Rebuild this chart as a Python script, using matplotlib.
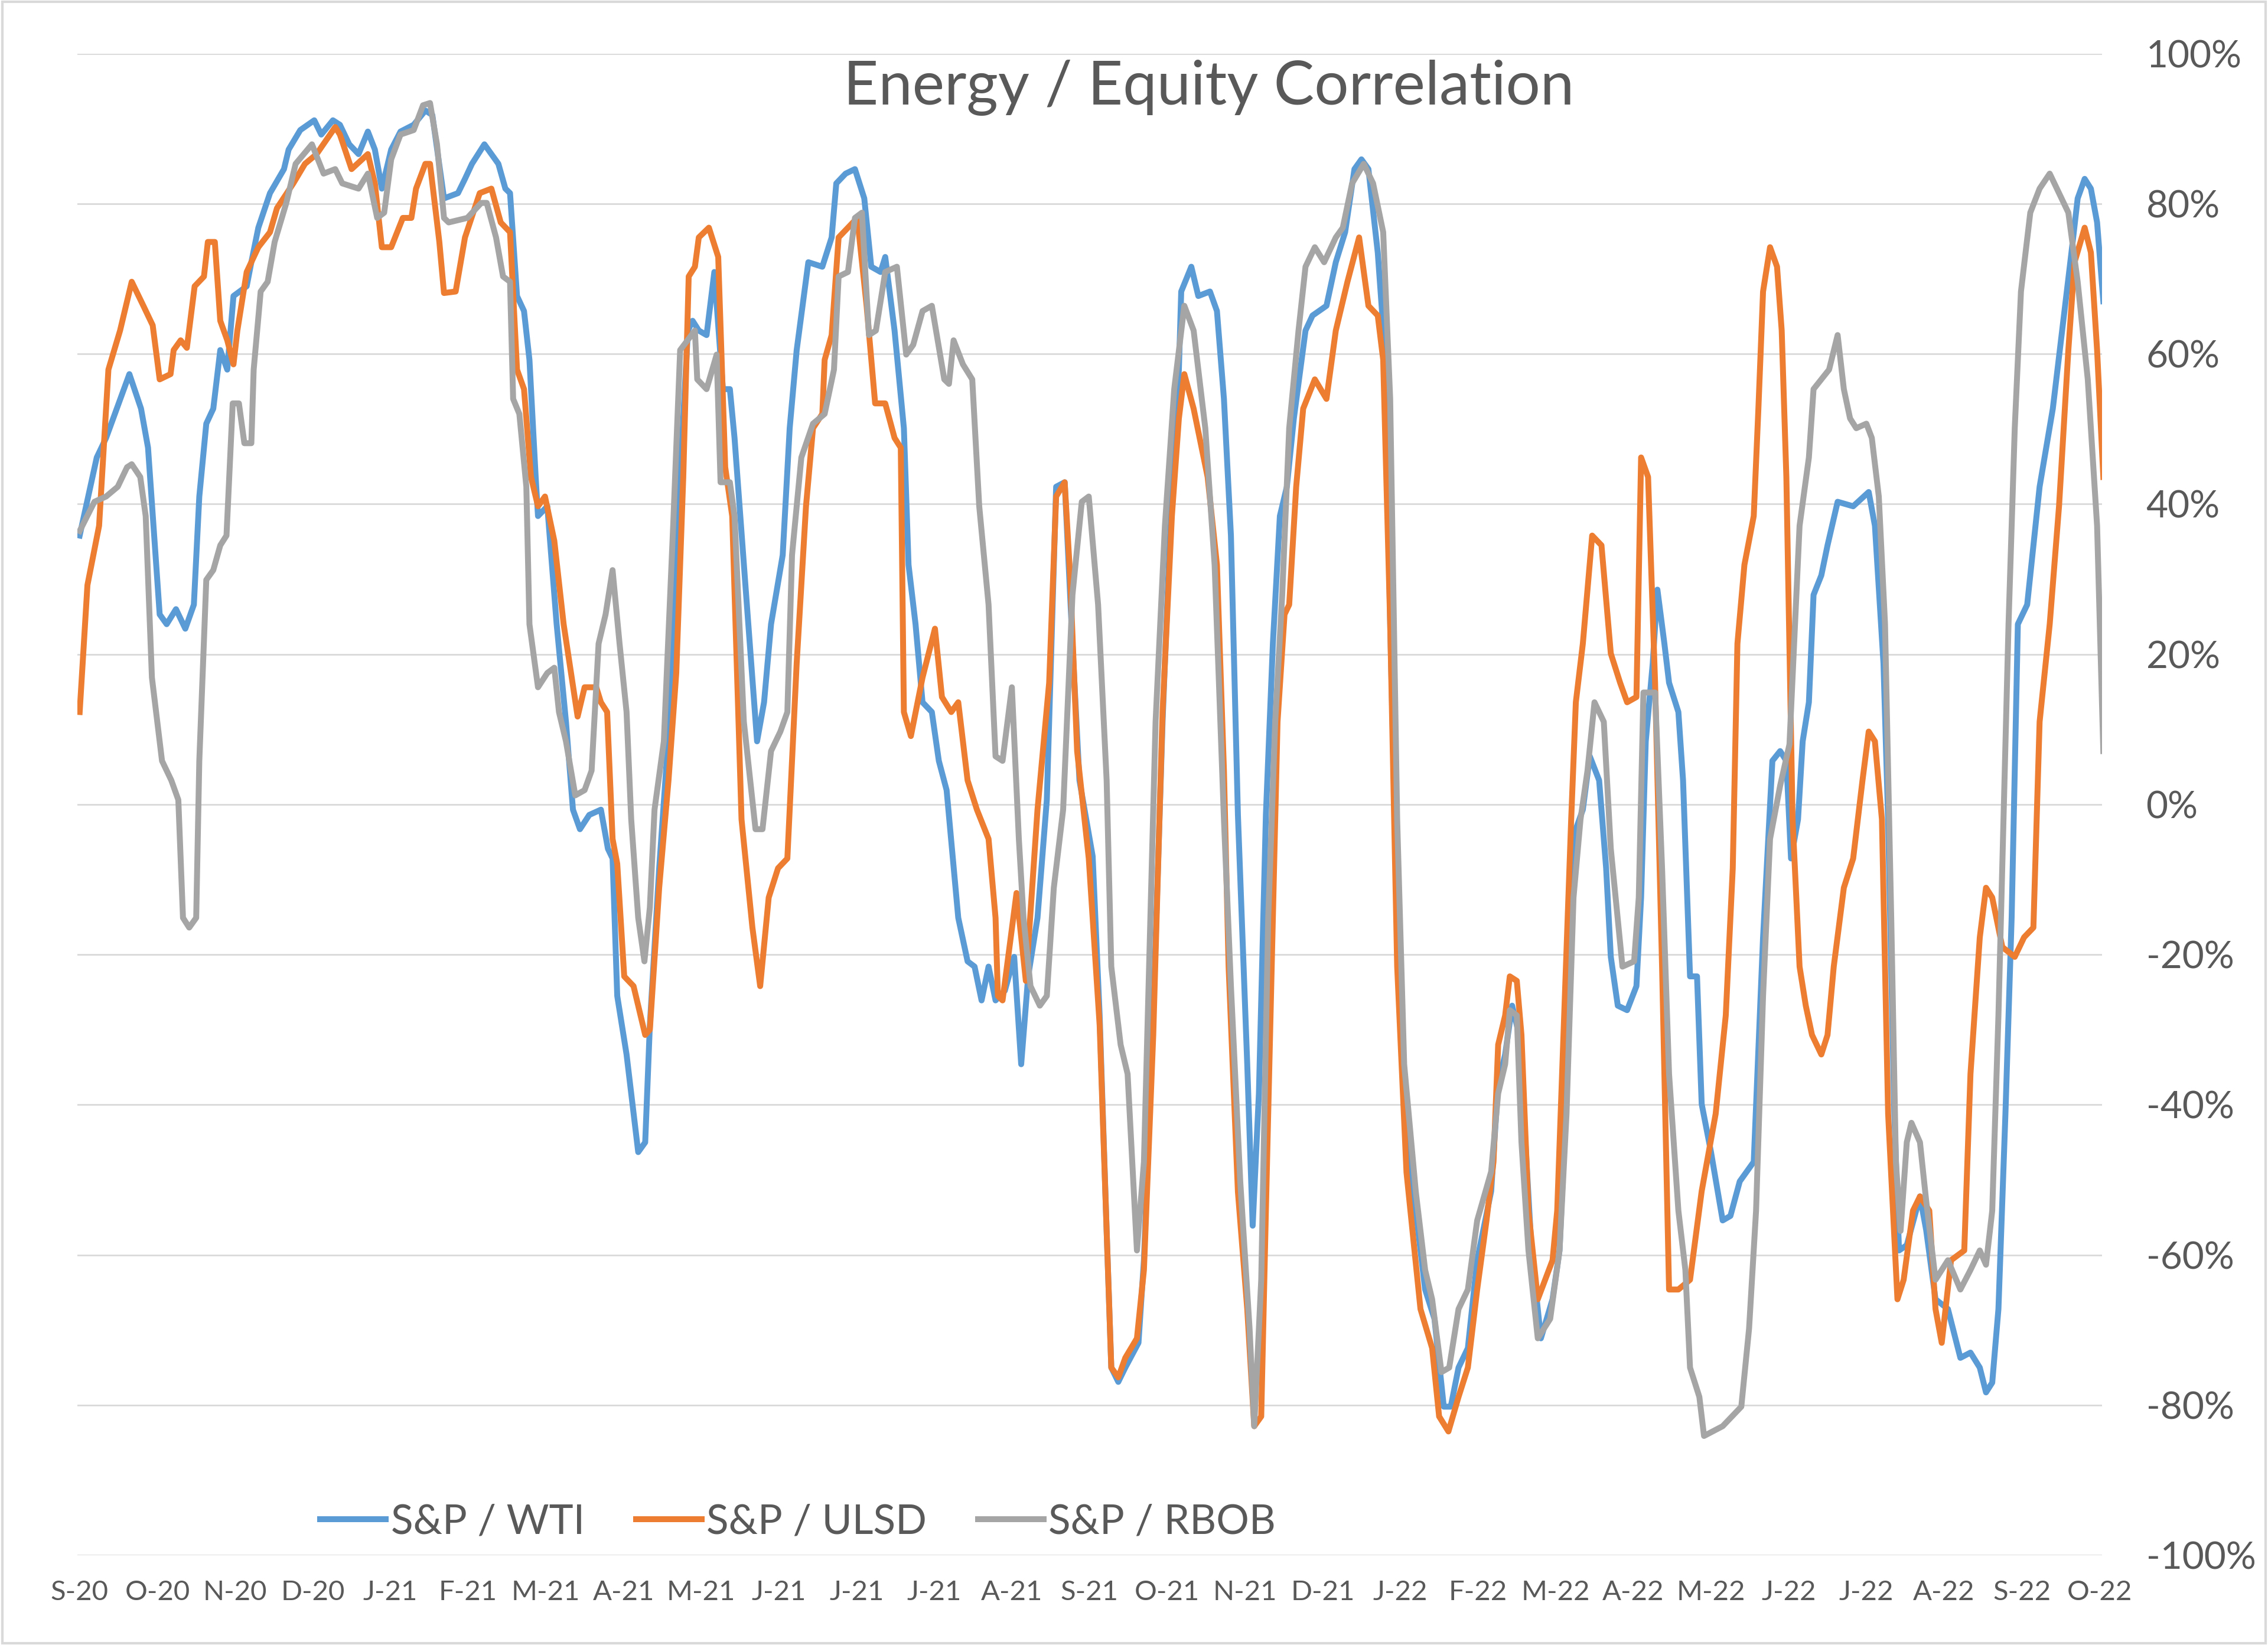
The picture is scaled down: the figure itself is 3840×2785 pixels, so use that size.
import matplotlib
matplotlib.use("Agg")
import matplotlib.pyplot as plt
from matplotlib.patches import Rectangle

# x axis category labels (Excel date axis, ~29 day steps)
months = ['S-20', 'O-20', 'N-20', 'D-20', 'J-21', 'F-21', 'M-21', 'A-21', 'M-21',
          'J-21', 'J-21', 'J-21', 'A-21', 'S-21', 'O-21', 'N-21', 'D-21', 'J-22',
          'F-22', 'M-22', 'A-22', 'M-22', 'J-22', 'J-22', 'A-22', 'S-22', 'O-22']

# S&P / WTI  (t = position on the label axis, v = correlation in %)
wti_t = [0.00, 0.22, 0.34, 0.64, 0.79, 0.88, 1.03, 1.12, 1.24, 1.36, 1.47, 1.54, 1.63, 1.72, 1.81,
         1.90, 1.98, 2.15, 2.21, 2.30, 2.45, 2.63, 2.69, 2.84, 3.02, 3.11, 3.26, 3.35, 3.47, 3.59,
         3.71, 3.80, 3.89, 4.01, 4.13, 4.30, 4.45, 4.54, 4.69, 4.87, 4.96, 5.05, 5.21, 5.39, 5.48,
         5.54, 5.63, 5.72, 5.79, 5.87, 5.90, 6.02, 6.14, 6.26, 6.35, 6.44, 6.56, 6.71, 6.80, 6.86,
         6.92, 7.04, 7.19, 7.28, 7.34, 7.46, 7.61, 7.73, 7.83, 7.89, 7.97, 8.07, 8.17, 8.28, 8.37,
         8.43, 8.57, 8.72, 8.81, 8.90, 9.05, 9.14, 9.23, 9.38, 9.56, 9.68, 9.74, 9.86, 9.98, 10.10,
         10.19, 10.31, 10.37, 10.49, 10.61, 10.67, 10.76, 10.85, 10.97, 11.06, 11.16, 11.31, 11.43,
         11.52, 11.61, 11.70, 11.79, 11.91, 12.03, 12.12, 12.21, 12.33, 12.45, 12.57, 12.68, 12.78,
         12.87, 13.04, 13.13, 13.22, 13.28, 13.37, 13.46, 13.63, 13.70, 13.82, 13.94, 14.03, 14.15,
         14.18, 14.31, 14.40, 14.55, 14.64, 14.73, 14.82, 14.91, 15.03, 15.10, 15.18, 15.27, 15.36,
         15.45, 15.54, 15.63, 15.78, 15.87, 16.05, 16.17, 16.29, 16.41, 16.50, 16.59, 16.71, 16.81,
         16.87, 16.96, 17.05, 17.20, 17.32, 17.44, 17.56, 17.65, 17.75, 17.87, 17.99, 18.17, 18.26,
         18.35, 18.44, 18.53, 18.59, 18.69, 18.81, 18.96, 19.05, 19.14, 19.20, 19.26, 19.35, 19.44,
         19.56, 19.65, 19.71, 19.80, 19.92, 20.04, 20.10, 20.16, 20.25, 20.31, 20.40, 20.46, 20.58,
         20.64, 20.73, 20.82, 20.88, 21.00, 21.15, 21.25, 21.37, 21.55, 21.67, 21.79, 21.89, 21.97,
         22.03, 22.12, 22.18, 22.26, 22.32, 22.42, 22.50, 22.63, 22.83, 23.03, 23.11, 23.22, 23.28,
         23.36, 23.42, 23.52, 23.69, 23.77, 23.89, 24.05, 24.21, 24.34, 24.46, 24.54, 24.62, 24.70,
         24.79, 24.87, 24.95, 25.07, 25.23, 25.40, 25.52, 25.64, 25.72, 25.81, 25.89, 25.97, 26.05]
wti_v = [35.8, 46.2, 48.8, 57.3, 52.7, 47.5, 25.3, 24.0, 26.0, 23.4, 26.6, 41.0, 50.7, 52.7, 60.5,
         57.9, 67.7, 69.0, 72.2, 76.8, 81.4, 84.6, 87.2, 89.8, 91.1, 89.2, 91.1, 90.5, 87.9, 86.6,
         89.6, 87.2, 82.0, 87.2, 89.6, 90.5, 92.4, 91.8, 80.7, 81.4, 83.3, 85.3, 87.9, 85.3, 82.0,
         81.4, 67.7, 65.7, 59.2, 43.6, 38.4, 39.7, 24.0, 11.0, -0.7, -3.3, -1.4, -0.7, -5.9, -7.2,
         -25.5, -33.3, -46.3, -45.0, -29.4, -8.5, 13.6, 43.6, 63.1, 64.4, 63.1, 62.5, 70.9, 55.3, 55.3,
         48.8, 29.2, 8.4, 13.6, 24.0, 33.2, 50.1, 60.5, 72.2, 71.6, 75.5, 82.7, 84.0, 84.6, 80.7,
         71.6, 70.9, 72.9, 63.1, 50.1, 31.9, 24.0, 13.6, 12.3, 5.8, 1.9, -15.1, -20.9,
         -21.6, -26.1, -21.6, -26.1, -24.8, -20.3, -34.6, -22.9, -15.1, 0.6, 42.3, 42.9, 21.4,
         3.2, -6.9, -28.1, -56.8, -75.0, -76.9, -75.0, -71.7, -60.7, -28.1, 11.0, 34.5, 57.9,
         68.3, 71.6, 67.7, 68.3, 65.7, 54.0, 35.8, -1.4, -34.6, -56.1, -38.5, -1.4, 21.4,
         38.4, 42.3, 51.4, 63.1, 65.1, 66.4, 72.2, 76.2, 84.6, 85.9, 84.6, 73.5, 59.2,
         24.0, -15.1, -41.2, -54.1, -64.6, -68.5, -80.2, -80.2, -75.0, -72.4, -60.7, -51.5, -37.2,
         -33.3, -26.8, -30.7, -41.2, -59.4, -71.1, -65.9, -59.4, -38.5, -11.1, -3.3, -0.7, 6.4,
         3.2, -8.5, -20.3, -26.8, -27.4, -24.2, -12.4, 8.4, 18.8, 28.6, 21.4, 16.2, 12.3,
         3.2, -22.9, -22.9, -39.9, -46.3, -55.4, -54.8, -50.2, -47.6, -17.7, 5.8, 7.1, 5.8,
         -7.2, -2.0, 8.4, 13.6, 27.9, 30.5, 34.5, 40.3, 39.7, 41.6, 37.1, 18.8, -2.0,
         -41.2, -59.4, -58.7, -52.2, -56.7, -65.9, -67.2, -73.7, -73.0, -75.0, -78.3, -77.0, -67.2,
         -41.2, -15.1, 24.0, 26.6, 42.3, 52.7, 63.1, 73.5, 80.7, 83.3, 82.0, 77.5, 67.0]

# S&P / ULSD
ulsd_t = [0.00, 0.10, 0.25, 0.37, 0.52, 0.67, 0.82, 0.94, 1.03, 1.17, 1.21, 1.30, 1.38, 1.48, 1.60,
          1.65, 1.74, 1.81, 1.90, 1.98, 2.03, 2.15, 2.30, 2.45, 2.54, 2.75, 2.90, 3.05, 3.29, 3.35,
          3.50, 3.71, 3.80, 3.89, 4.01, 4.16, 4.27, 4.33, 4.45, 4.51, 4.63, 4.69, 4.84, 4.96, 5.15,
          5.30, 5.42, 5.54, 5.63, 5.72, 5.81, 5.90, 5.99, 6.11, 6.23, 6.41, 6.50, 6.65, 6.71, 6.79,
          6.86, 6.92, 7.01, 7.13, 7.28, 7.34, 7.46, 7.58, 7.68, 7.77, 7.84, 7.92, 7.97, 8.10, 8.22,
          8.31, 8.40, 8.52, 8.66, 8.76, 8.87, 8.99, 9.11, 9.23, 9.35, 9.44, 9.56, 9.59, 9.68, 9.77,
          9.89, 10.01, 10.13, 10.24, 10.37, 10.49, 10.57, 10.61, 10.70, 10.85, 11.01, 11.10, 11.22,
          11.31, 11.43, 11.55, 11.70, 11.79, 11.82, 11.88, 12.06, 12.18, 12.33, 12.48, 12.57, 12.68,
          12.75, 12.84, 12.99, 13.13, 13.28, 13.37, 13.46, 13.61, 13.70, 13.82, 13.94, 14.06, 14.15,
          14.22, 14.34, 14.52, 14.64, 14.73, 14.79, 14.91, 15.03, 15.12, 15.21, 15.27, 15.36, 15.42,
          15.51, 15.57, 15.66, 15.75, 15.90, 16.05, 16.17, 16.32, 16.47, 16.59, 16.71, 16.78, 16.87,
          16.96, 17.08, 17.26, 17.41, 17.50, 17.62, 17.75, 17.87, 17.99, 18.11, 18.20, 18.26, 18.35,
          18.41, 18.50, 18.56, 18.65, 18.77, 18.96, 19.02, 19.11, 19.20, 19.26, 19.35, 19.47, 19.59,
          19.71, 19.83, 19.92, 20.04, 20.10, 20.19, 20.28, 20.37, 20.46, 20.58, 20.73, 20.88, 21.06,
          21.19, 21.28, 21.34, 21.43, 21.55, 21.61, 21.67, 21.76, 21.85, 21.91, 21.97, 22.05, 22.14,
          22.22, 22.30, 22.42, 22.50, 22.58, 22.71, 22.83, 22.95, 23.03, 23.11, 23.20, 23.28, 23.40,
          23.48, 23.60, 23.69, 23.81, 23.89, 23.97, 24.09, 24.26, 24.34, 24.46, 24.54, 24.62, 24.75,
          24.91, 25.03, 25.15, 25.23, 25.36, 25.48, 25.60, 25.68, 25.81, 25.89, 25.97, 26.05]
ulsd_v = [12.3, 29.2, 37.1, 57.9, 63.1, 69.6, 66.4, 63.8, 56.6, 57.3, 60.5, 61.8, 60.8, 69.0, 70.3,
          74.9, 74.9, 64.4, 61.8, 58.6, 63.1, 70.9, 74.2, 76.2, 79.4, 82.7, 85.3, 86.6, 90.2, 89.2,
          84.6, 86.6, 82.7, 74.2, 74.2, 78.1, 78.1, 82.0, 85.3, 85.3, 74.9, 68.1, 68.3, 75.5, 81.4,
          82.0, 77.5, 76.2, 57.9, 55.3, 43.6, 39.7, 41.0, 35.1, 24.0, 11.7, 15.6, 15.6, 13.6, 12.3,
          -4.6, -7.9, -22.9, -24.2, -30.7, -30.0, -11.1, 3.2, 17.5, 43.6, 70.3, 71.6, 75.5, 76.8, 72.9,
          44.9, 38.4, -2.0, -16.4, -24.2, -12.4, -8.5, -7.2, 18.8, 39.7, 50.1, 52.0, 59.2, 62.5, 75.5,
          76.8, 78.1, 66.4, 53.4, 53.4, 48.8, 47.5, 12.3, 9.1, 16.9, 23.4, 14.3, 12.3,
          13.6, 3.2, -0.7, -4.6, -15.1, -25.5, -26.1, -11.8, -23.5, -0.7, 16.2, 41.0, 42.9,
          30.4, 7.1, -7.2, -29.4, -75.0, -76.3, -73.7, -71.1, -62.0, -30.7, 12.3, 38.4, 51.4,
          57.3, 52.7, 43.6, 31.9, 4.5, -21.6, -51.6, -67.2, -82.8, -81.5, -54.1, -15.1, 11.0,
          25.3, 26.6, 42.3, 52.7, 56.6, 54.0, 63.1, 69.6, 75.5, 66.4, 65.1, 59.2, 24.0,
          -21.6, -49.0, -67.2, -72.4, -81.5, -83.5, -78.9, -75.0, -64.6, -55.4, -47.6, -32.0, -28.1,
          -22.9, -23.5, -30.7, -54.1, -65.9, -60.7, -54.1, -28.1, -2.0, 13.6, 21.4, 35.8, 34.5,
          20.1, 16.2, 13.6, 14.3, 46.2, 43.6, 16.2, -21.6, -64.6, -64.6, -63.3, -51.5, -41.2,
          -28.1, -8.5, 21.4, 31.9, 38.4, 52.7, 68.3, 74.2, 71.6, 63.1, 43.6, -2.0, -21.6,
          -26.8, -30.7, -33.3, -30.7, -21.6, -11.1, -7.2, 3.2, 9.7, 8.4, -2.0, -41.2, -65.9,
          -63.3, -54.1, -52.2, -54.1, -67.2, -71.7, -60.7, -59.4, -35.9, -17.7, -11.1, -12.4, -19.0,
          -20.3, -17.7, -16.4, 11.0, 24.0, 39.7, 60.5, 72.2, 76.8, 73.5, 60.5, 43.6]

# S&P / RBOB
rbob_t = [0.00, 0.19, 0.34, 0.49, 0.61, 0.67, 0.78, 0.85, 0.93, 1.06, 1.18, 1.27, 1.33, 1.41, 1.50,
          1.54, 1.63, 1.72, 1.81, 1.89, 1.97, 2.05, 2.12, 2.21, 2.24, 2.33, 2.42, 2.51, 2.66, 2.78,
          2.99, 3.14, 3.29, 3.38, 3.59, 3.71, 3.83, 3.92, 4.01, 4.13, 4.30, 4.42, 4.51, 4.60, 4.69,
          4.75, 4.99, 5.17, 5.24, 5.36, 5.45, 5.54, 5.58, 5.66, 5.75, 5.79, 5.90, 6.02, 6.11, 6.17,
          6.26, 6.38, 6.50, 6.59, 6.68, 6.77, 6.86, 6.95, 7.04, 7.10, 7.19, 7.27, 7.34, 7.40, 7.52,
          7.64, 7.73, 7.92, 7.95, 8.07, 8.20, 8.25, 8.37, 8.43, 8.55, 8.70, 8.79, 8.90, 9.02, 9.11,
          9.17, 9.29, 9.44, 9.59, 9.71, 9.77, 9.89, 9.98, 10.07, 10.16, 10.25, 10.37, 10.52, 10.64,
          10.73, 10.85, 10.97, 11.13, 11.19, 11.25, 11.37, 11.49, 11.58, 11.70, 11.79, 11.88, 12.00,
          12.09, 12.15, 12.24, 12.36, 12.45, 12.54, 12.66, 12.78, 12.90, 12.99, 13.11, 13.22, 13.28,
          13.40, 13.49, 13.61, 13.70, 13.85, 13.97, 14.09, 14.22, 14.34, 14.49, 14.61, 14.73, 14.82,
          14.94, 15.06, 15.12, 15.21, 15.30, 15.39, 15.48, 15.57, 15.69, 15.78, 15.90, 16.02, 16.17,
          16.26, 16.38, 16.53, 16.65, 16.78, 16.87, 16.96, 17.05, 17.20, 17.32, 17.41, 17.53, 17.63,
          17.75, 17.87, 17.99, 18.17, 18.26, 18.35, 18.41, 18.50, 18.56, 18.65, 18.77, 18.93, 19.05,
          19.14, 19.23, 19.32, 19.41, 19.50, 19.62, 19.71, 19.86, 20.01, 20.07, 20.13, 20.28, 20.37,
          20.46, 20.58, 20.67, 20.73, 20.85, 20.91, 21.15, 21.39, 21.49, 21.58, 21.67, 21.76, 21.89,
          22.01, 22.14, 22.26, 22.32, 22.42, 22.52, 22.63, 22.71, 22.79, 22.87, 23.00, 23.07, 23.16,
          23.24, 23.32, 23.38, 23.44, 23.52, 23.58, 23.69, 23.77, 23.89, 24.05, 24.21, 24.34, 24.46,
          24.54, 24.62, 24.70, 24.83, 24.91, 24.99, 25.11, 25.23, 25.36, 25.48, 25.60, 25.72, 25.85,
          25.97, 26.05]
rbob_v = [36.4, 40.3, 41.0, 42.3, 44.9, 45.3, 43.6, 38.4, 16.9, 5.8, 3.2, 0.6, -15.1, -16.4, -15.1,
          5.8, 29.9, 31.2, 34.5, 35.8, 53.4, 53.4, 48.1, 48.1, 57.9, 68.3, 69.6, 74.9, 80.1, 85.3,
          87.9, 84.0, 84.6, 82.7, 82.0, 84.0, 78.1, 78.8, 85.9, 89.2, 89.8, 93.1, 93.4, 87.9, 78.1,
          77.5, 78.1, 80.1, 80.1, 75.5, 70.3, 69.6, 54.0, 52.0, 42.3, 24.0, 15.6, 17.5, 18.2, 12.3,
          8.4, 1.2, 1.9, 4.5, 21.4, 25.3, 31.2, 21.4, 12.3, -2.0, -15.1, -20.9, -13.7, -0.7, 8.4,
          37.1, 60.5, 63.1, 56.6, 55.3, 59.9, 42.9, 42.9, 38.4, 11.0, -3.3, -3.3, 7.1, 9.7, 12.3,
          33.2, 46.2, 50.7, 52.0, 57.9, 70.3, 70.9, 78.1, 78.8, 62.5, 63.1, 70.9, 71.6, 59.9,
          61.2, 65.7, 66.4, 56.6, 56.0, 61.8, 58.6, 56.6, 39.7, 26.6, 6.4, 5.8, 15.6,
          -4.6, -15.1, -24.2, -26.8, -25.5, -11.1, -0.7, 27.9, 40.3, 41.0, 26.6, 3.2, -21.6,
          -32.0, -35.9, -59.4, -47.6, 11.0, 37.1, 55.3, 66.4, 63.1, 50.1, 31.9, -2.0, -24.2,
          -50.2, -69.8, -82.8, -63.3, -15.1, 11.0, 27.9, 50.1, 63.1, 71.6, 74.2, 72.2, 75.5,
          76.8, 82.7, 85.3, 82.7, 76.2, 54.0, -2.0, -34.6, -51.6, -62.0, -65.9, -75.6, -75.0,
          -67.2, -64.6, -55.4, -48.9, -38.5, -34.6, -27.4, -28.1, -45.0, -59.4, -71.1, -68.5, -59.4,
          -41.2, -12.4, -2.0, 4.5, 13.6, 11.0, -5.9, -21.6, -20.9, -12.4, 14.9, 14.9, -8.5,
          -35.9, -54.1, -62.0, -75.0, -78.9, -84.1, -82.8, -80.2, -69.8, -54.1, -25.5, -4.6, 2.5,
          8.0, 37.1, 46.2, 55.3, 56.6, 57.9, 62.5, 55.3, 51.4, 50.1, 50.7, 48.8, 41.0,
          24.0, -15.1, -47.6, -56.8, -45.0, -42.4, -45.0, -52.8, -63.3, -60.7, -64.6, -62.0, -59.4,
          -61.3, -54.1, -28.1, 24.0, 50.1, 68.3, 78.8, 82.0, 84.0, 81.4, 78.8, 69.6, 56.6,
          37.1, 7.1]

series_names = ['S&P / WTI', 'S&P / ULSD', 'S&P / RBOB']
series_colors = ['#5B9BD5', '#ED7D31', '#A5A5A5']
y_ticks = [100, 80, 60, 40, 20, 0, -20, -40, -60, -80, -100]

grey_txt = '#595959'

fig = plt.figure(figsize=(19.2, 13.925), dpi=200)
ax = fig.add_axes([0.0341, 0.0545, 0.8926, 0.913])

for (t, v), name, col in zip([(wti_t, wti_v), (ulsd_t, ulsd_v), (rbob_t, rbob_v)],
                             series_names, series_colors):
    ax.plot(t, v, color=col, lw=3.6, label=name, solid_joinstyle='round')

ax.set_ylim(-100, 100)
ax.set_xlim(-0.03, 26.03)
ax.set_yticks(y_ticks)
ax.set_yticklabels([f'{y}%' for y in y_ticks], fontsize=23, color=grey_txt, family='Lato')
ax.yaxis.tick_right()
ax.tick_params(axis='y', length=0, pad=27)
ax.set_xticks(range(len(months)))
ax.set_xticklabels(months, fontsize=17, color=grey_txt, family='Lato')
ax.tick_params(axis='x', length=0, pad=15)
ax.grid(axis='y', color='#D9D9D9', lw=1.0)
ax.set_axisbelow(True)
for s in ax.spines.values():
    s.set_visible(False)

leg = ax.legend(loc='center', bbox_to_anchor=(0.356, 0.022), ncol=3, frameon=False,
                prop={'family': 'Lato', 'size': 25}, handlelength=1.6, handletextpad=0.12,
                columnspacing=1.25)
for txt in leg.get_texts():
    txt.set_color(grey_txt)

fig.text(0.5329, 0.9366, 'Energy / Equity Correlation', ha='center', va='baseline',
         fontsize=37, color=grey_txt, family='Lato')

fig.patches.append(Rectangle((0.001, 0.001), 0.998, 0.998, transform=fig.transFigure,
                             fill=False, edgecolor='#D9D9D9', lw=1.5))

fig.savefig('out.png', dpi=200)
